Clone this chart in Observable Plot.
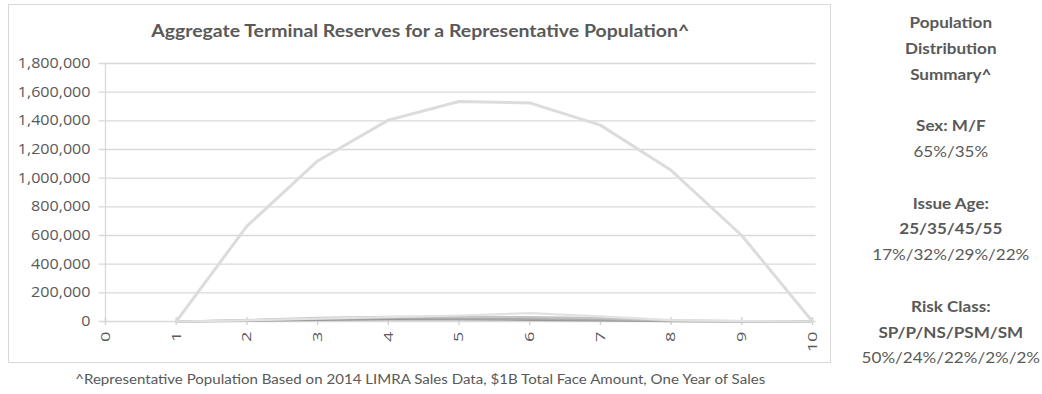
<!DOCTYPE html>
<html>
<head>
<meta charset="utf-8">
<script src="https://cdn.jsdelivr.net/npm/d3@7"></script>
<script src="https://cdn.jsdelivr.net/npm/@observablehq/plot@0.6"></script>
<style>
  html, body { margin: 0; padding: 0; background: #fff; }
  body { width: 1042px; height: 394px; position: relative; overflow: hidden; font-family: Lato, "Open Sans", sans-serif; color: #595959; }
  #frame { position: absolute; left: 8px; top: 4px; width: 823px; height: 359px; border: 1px solid #d9d9d9; box-sizing: border-box; }
  .fit { position: absolute; white-space: nowrap; transform-origin: center center; }
  #title { left: 420px; top: 21px; font-weight: bold; font-size: 16.5px; color: #595959; }
  #chart { position: absolute; left: 0; top: 0; }
  #summary { position: absolute; left: 951px; top: 10px; text-align: center; font-size: 14.5px; line-height: 25.8px; color: #595959; transform-origin: center top; }
  #note { left: 420px; top: 372px; font-size: 12.5px; color: #595959; }
</style>
</head>
<body>
<div id="frame"></div>
<div id="chart"></div>
<div id="title" class="fit"></div>
<div id="summary"></div>
<div id="note" class="fit"></div>
<script>
// Policy year on the x axis
const years = [1, 2, 3, 4, 5, 6, 7, 8, 9, 10];
const xTicks = [0, 1, 2, 3, 4, 5, 6, 7, 8, 9, 10];
const yTicks = [0, 200000, 400000, 600000, 800000, 1000000, 1200000, 1400000, 1600000, 1800000];

// Aggregate terminal reserves by product
const reservesMain = [0, 665000, 1120000, 1405000, 1535000, 1525000, 1370000, 1055000, 600000, 0];
const reservesA = [0, 8000, 20000, 30000, 42000, 58000, 36000, 10000, 3000, 0];
const reservesB = [0, 10000, 25000, 32000, 35000, 30000, 24000, 8000, 2000, 0];
const reservesC = [0, 8000, 18000, 25000, 22000, 20000, 15000, 5000, 1000, 0];
const reservesD = [0, 5000, 12000, 15000, 15000, 12000, 8000, 3000, 1000, 0];

const seriesNames = ["Main", "A", "B", "C", "D"];
const seriesValues = [reservesMain, reservesA, reservesB, reservesC, reservesD];
const seriesColors = ["#dcdcdc", "#e2e2e2", "#c4c4c4", "#adadad", "#999999"];

const titleText = "Aggregate Terminal Reserves for a Representative Population^";
const noteText = "^Representative Population Based on 2014 LIMRA Sales Data, $1B Total Face Amount, One Year of Sales";

const summaryLines = [
  ["Population", true], ["Distribution", true], ["Summary^", true], ["", false],
  ["Sex: M/F", true], ["65%/35%", false], ["", false],
  ["Issue Age:", true], ["25/35/45/55", true], ["17%/32%/29%/22%", false], ["", false],
  ["Risk Class:", true], ["SP/P/NS/PSM/SM", true], ["50%/24%/22%/2%/2%", false]
];

const rows = seriesNames.flatMap((name, i) =>
  years.map((yr, j) => ({series: name, year: yr, value: seriesValues[i][j]}))
);

const fmt = d3.format(",");

const chart = Plot.plot({
  width: 840,
  height: 362,
  marginLeft: 105,
  marginRight: 28,
  marginTop: 63,
  marginBottom: 41,
  style: {fontFamily: "'Open Sans', Lato, sans-serif", fontSize: "14px", color: "#595959", background: "transparent"},
  x: {domain: [0, 10], label: null, axis: null},
  y: {domain: [0, 1800000], label: null, axis: null},
  color: {domain: seriesNames, range: seriesColors},
  marks: [
    Plot.gridY(yTicks, {stroke: "#d9d9d9", strokeOpacity: 1, strokeWidth: 1.3, x1: -0.09, x2: 10.05}),
    Plot.ruleX([0], {stroke: "#d9d9d9", strokeWidth: 1.3}),
    Plot.ruleX(xTicks, {x: d => d, y1: -28000, y2: 28000, stroke: "#d0d0d0", strokeWidth: 1.3}),
    Plot.axisY(yTicks, {label: null, tickSize: 0, tickPadding: 15, tickFormat: fmt, fill: "#595959", fontSize: 14}),
    Plot.axisX(xTicks, {label: null, tickSize: 0, tickRotate: -90, tickPadding: 10, tickFormat: d => String(d), fill: "#595959", fontSize: 13.5}),
    ...seriesNames.slice().reverse().map(name =>
      Plot.line(rows.filter(r => r.series === name), {
        x: "year", y: "value", stroke: "series",
        strokeWidth: name === "Main" ? 3 : 2.2, strokeLinejoin: "round"
      })
    )
  ]
});
document.getElementById("chart").appendChild(chart);

// Widen the axis labels a little (wide-set digits)
d3.select(chart).selectAll('g[aria-label="x-axis tick label"] text').each(function () {
  const t = this.getAttribute("transform") || "";
  this.setAttribute("transform", t + " scale(1.35,1)");
});
d3.select(chart).selectAll('g[aria-label="y-axis tick label"] text').each(function () {
  const x = +this.getAttribute("x") || 0;
  const t = this.getAttribute("transform") || "";
  this.setAttribute("transform", t + ` translate(${x},0) scale(1.15,1) translate(${-x},0)`);
});

// Center a text block on its left coordinate and stretch it to a given width
function fitText(el, targetWidth) {
  const w = el.getBoundingClientRect().width;
  el.style.marginLeft = (-w / 2) + "px";
  el.style.transform = "scaleX(" + (targetWidth / w) + ")";
}

const titleEl = document.getElementById("title");
titleEl.textContent = titleText;
fitText(titleEl, 538);

const noteEl = document.getElementById("note");
noteEl.textContent = noteText;
fitText(noteEl, 690);

const sum = document.getElementById("summary");
let refLine = null;
for (const [txt, bold] of summaryLines) {
  const d = document.createElement("div");
  if (txt) {
    const s = document.createElement("span");
    s.textContent = txt;
    if (bold) s.style.fontWeight = "bold";
    d.appendChild(s);
    if (txt === "17%/32%/29%/22%") refLine = s;
  } else {
    d.innerHTML = "&nbsp;";
  }
  sum.appendChild(d);
}
const sw = sum.getBoundingClientRect().width;
sum.style.marginLeft = (-sw / 2) + "px";
sum.style.transform = "scaleX(" + (157 / refLine.getBoundingClientRect().width) + ")";
</script>
</body>
</html>
